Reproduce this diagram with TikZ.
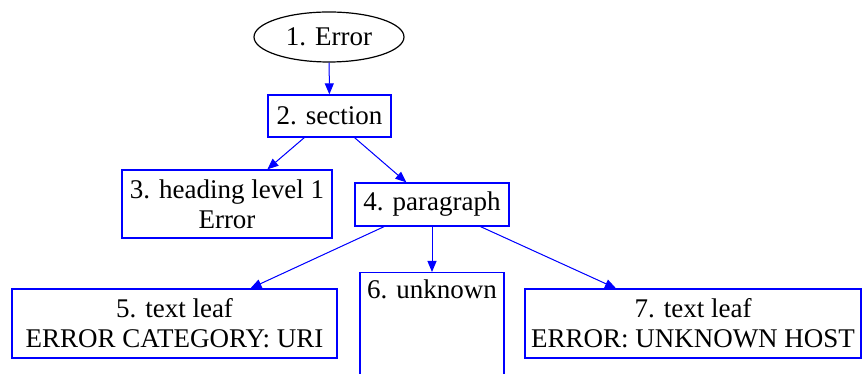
\documentclass[tikz,border=0pt]{standalone}
\usepackage{fontspec}
\setmainfont{Liberation Serif}
\newfontfamily\treefont{Liberation Serif}
\usepackage{tikz}
\usetikzlibrary{
  arrows.meta,
  shapes.geometric
}

\begin{document}
\begin{tikzpicture}[
  x=1pt, y=1pt,
  every node/.style={font=\treefont\fontsize{27}{30}\selectfont, align=center},
  treebox/.style={draw=blue, line width=1.3pt, inner sep=0pt},
  rootnode/.style={ellipse, draw=black, line width=1.2pt, inner sep=0pt,
                   minimum width=150pt, minimum height=50pt},
  arr/.style={-{Triangle[length=11pt, width=9pt]}, line width=1pt, draw=blue, fill=blue}
]
\useasboundingbox (0,0) rectangle (862,374);
\clip (0,0) rectangle (862,374);
\node[rootnode] (n1) at (329,337) {1. Error};
\node[treebox, minimum width=123pt, minimum height=42pt] (n2) at (329.5,258) {2. section};
\node[treebox, minimum width=210pt, minimum height=68pt] (n3) at (227,170)
  {3. heading level 1\\ Error};
\node[treebox, minimum width=154pt, minimum height=43pt] (n4) at (432,169.5) {4. paragraph};
\node[treebox, minimum width=325pt, minimum height=69pt] (n5) at (174.5,50.5)
  {5. text leaf\\ ERROR CATEGORY: URI};
\node[treebox, anchor=north, minimum width=144pt, inner ysep=8pt,
      text height=18pt, text depth=200pt] (n6) at (432,102) {6. unknown};
\node[treebox, minimum width=336pt, minimum height=69pt] (n7) at (693,50.5)
  {7. text leaf\\ ERROR: UNKNOWN HOST};
\draw[arr] (n1) -- (n2);
\draw[arr] (n2) -- (n3); \draw[arr] (n2) -- (n4);
\draw[arr] (n4) -- (n5); \draw[arr] (n4) -- (n6.north); \draw[arr] (n4) -- (n7);
\end{tikzpicture}
\end{document}
